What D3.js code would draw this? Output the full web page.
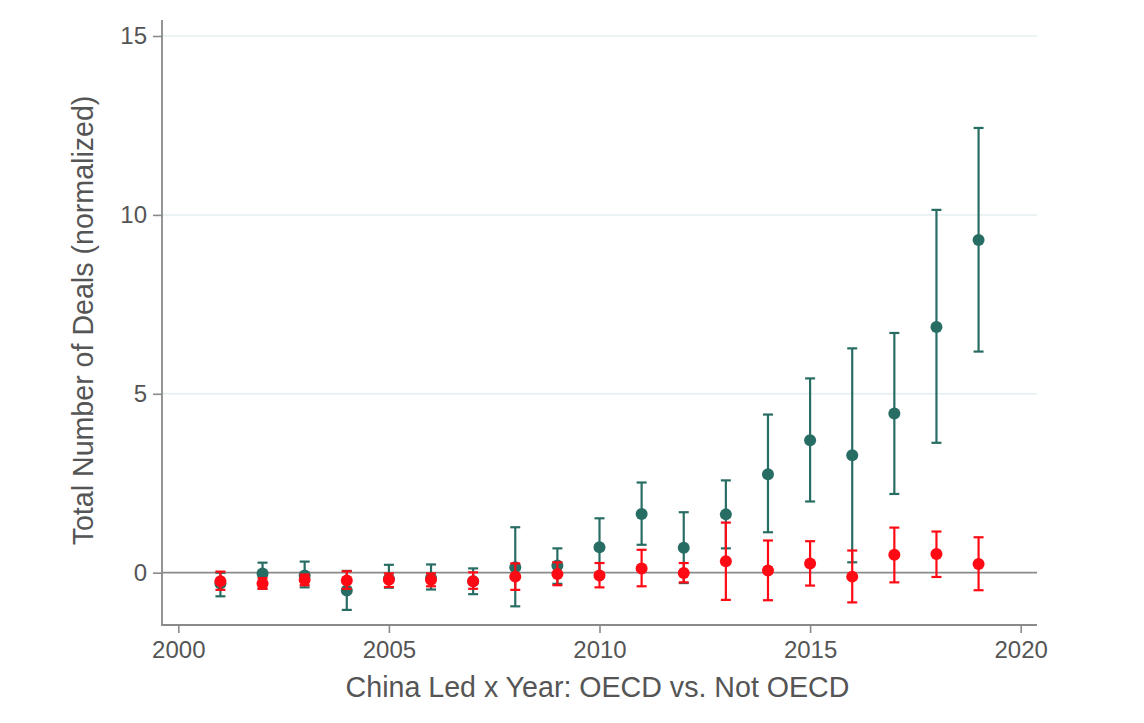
<!DOCTYPE html>
<html>
<head>
<meta charset="utf-8">
<script src="https://cdn.jsdelivr.net/npm/d3@7"></script>
<style>
  html, body { margin: 0; padding: 0; background: #ffffff; }
  svg { display: block; }
  text { font-family: "Liberation Sans", Arial, Helvetica, sans-serif; fill: #555555; }
</style>
</head>
<body>
<svg id="chart" width="1144" height="723"></svg>
<script>
// ---- data ----
const years = [2001,2002,2003,2004,2005,2006,2007,2008,2009,2010,2011,2012,2013,2014,2015,2016,2017,2018,2019];

const oecdEst = [-0.30,-0.02,-0.08,-0.50,-0.17,-0.15,-0.24,0.15,0.20,0.71,1.64,0.70,1.63,2.75,3.70,3.28,4.45,6.87,9.30];
const oecdLo  = [-0.66,-0.45,-0.41,-1.04,-0.42,-0.47,-0.60,-0.94,-0.31,-0.05,0.78,-0.29,0.68,1.13,1.99,0.29,2.20,3.63,6.18];
const oecdHi  = [0.00,0.28,0.31,0.05,0.22,0.23,0.12,1.27,0.68,1.52,2.52,1.69,2.58,4.42,5.43,6.27,6.70,10.14,12.43];

const notEst = [-0.24,-0.30,-0.20,-0.22,-0.20,-0.20,-0.24,-0.11,-0.04,-0.08,0.12,-0.01,0.32,0.06,0.26,-0.11,0.50,0.52,0.24];
const notLo  = [-0.48,-0.45,-0.35,-0.45,-0.40,-0.38,-0.45,-0.48,-0.35,-0.41,-0.38,-0.27,-0.76,-0.77,-0.36,-0.83,-0.27,-0.12,-0.49];
const notHi  = [0.03,-0.15,-0.05,0.04,-0.02,-0.02,0.01,0.26,0.29,0.27,0.64,0.27,1.40,0.90,0.88,0.62,1.26,1.15,0.99];

const xTicks = [2000,2005,2010,2015,2020];
const yTicks = [0,5,10,15];
const gridTicks = [5,10,15];

const xTitle = "China Led x Year: OECD vs. Not OECD";
const yTitle = "Total Number of Deals (normalized)";

const colOECD = "#286d64";
const colNot = "#ff0a14";

// ---- layout ----
const pL = 162, pR = 1037, pT = 20, pB = 625;
const svg = d3.select("#chart");

const x = d3.scaleLinear().domain([1999.613, 2020.387]).range([pL, pR]);
const y = d3.scaleLinear().domain([-1.462, 15.447]).range([pB, pT]);

// gridlines
svg.append("g").selectAll("line").data(gridTicks).join("line")
  .attr("x1", pL).attr("x2", pR)
  .attr("y1", d => y(d)).attr("y2", d => y(d))
  .attr("stroke", "#e4eff1").attr("stroke-width", 1.5);

// zero line
svg.append("line")
  .attr("x1", pL).attr("x2", pR)
  .attr("y1", y(0)).attr("y2", y(0))
  .attr("stroke", "#8a8a8a").attr("stroke-width", 1.8);

// axes
const yAxis = d3.axisLeft(y).tickValues(yTicks).tickSize(9).tickPadding(6).tickFormat(d3.format("d"));
const gy = svg.append("g").attr("transform", `translate(${pL},0)`).call(yAxis);
const xAxis = d3.axisBottom(x).tickValues(xTicks).tickSize(8).tickPadding(8).tickFormat(d3.format("d"));
const gx = svg.append("g").attr("transform", `translate(0,${pB})`).call(xAxis);

[gx, gy].forEach(g => {
  g.select(".domain").remove();
  g.selectAll(".tick line").attr("stroke", "#8a8a8a").attr("stroke-width", 1.6);
  g.selectAll(".tick text").attr("font-size", 24).style("fill", "#555555")
    .attr("font-family", "'Liberation Sans', Arial, sans-serif");
});

svg.append("line").attr("x1", pL).attr("x2", pL).attr("y1", pT).attr("y2", pB + 0.8)
  .attr("stroke", "#8a8a8a").attr("stroke-width", 1.8);
svg.append("line").attr("x1", pL - 0.8).attr("x2", pR).attr("y1", pB).attr("y2", pB)
  .attr("stroke", "#8a8a8a").attr("stroke-width", 1.8);

// titles
svg.append("text")
  .attr("x", (pL + pR) / 2 - 2).attr("y", 697)
  .attr("text-anchor", "middle").attr("font-size", 28.6)
  .text(xTitle);

svg.append("text")
  .attr("transform", `translate(93,${(pT + pB) / 2 - 2}) rotate(-90)`)
  .attr("text-anchor", "middle").attr("font-size", 28.6)
  .text(yTitle);

// series
function drawSeries(est, lo, hi, color) {
  const g = svg.append("g");
  const capW = 5;
  years.forEach((yr, i) => {
    const cx = x(yr);
    g.append("line").attr("x1", cx).attr("x2", cx).attr("y1", y(lo[i])).attr("y2", y(hi[i]))
      .attr("stroke", color).attr("stroke-width", 2.2);
    [lo[i], hi[i]].forEach(v => {
      g.append("line").attr("x1", cx - capW).attr("x2", cx + capW).attr("y1", y(v)).attr("y2", y(v))
        .attr("stroke", color).attr("stroke-width", 2.2);
    });
  });
  g.selectAll("circle").data(years).join("circle")
    .attr("cx", d => x(d)).attr("cy", (d, i) => y(est[i])).attr("r", 6)
    .attr("fill", color);
}

drawSeries(oecdEst, oecdLo, oecdHi, colOECD);
drawSeries(notEst, notLo, notHi, colNot);
</script>
</body>
</html>
